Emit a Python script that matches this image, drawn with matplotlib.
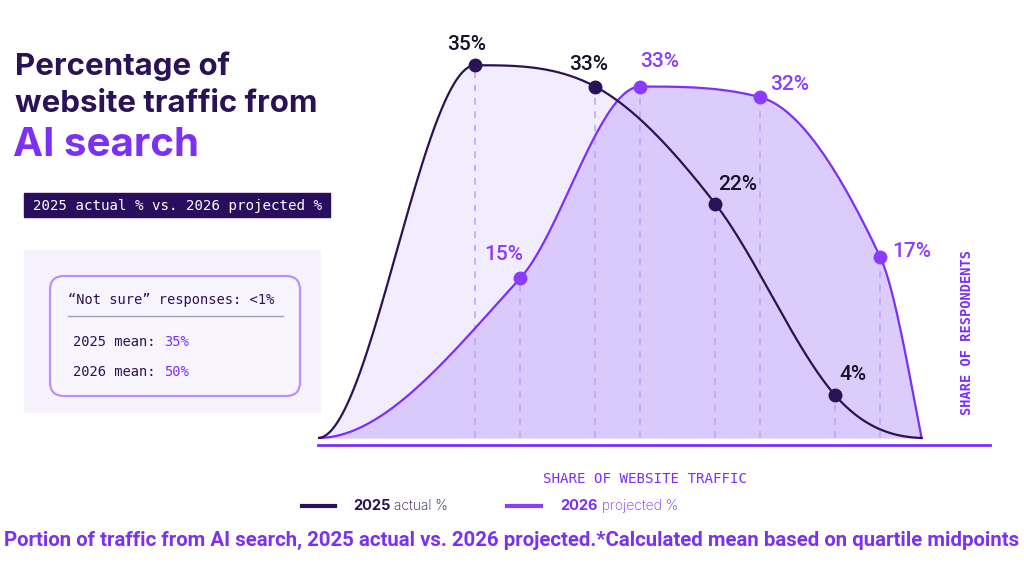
import numpy as np
import matplotlib
matplotlib.use("Agg")
import matplotlib.pyplot as plt
from matplotlib.patches import FancyBboxPatch, Rectangle

# data (share of respondents, % per traffic quartile)
quartiles = ["0-25%", "26-50%", "51-75%", "76-100%"]
actual_2025 = [35, 33, 22, 4]
projected_2026 = [15, 33, 32, 17]
mean_2025 = "35%"
mean_2026 = "50%"
not_sure = "<1%"

DARK = "#2b1257"
PURPLE = "#7b2ff7"
DASH = "#bfa6f7"


def smooth(x, y, xs):
    # cubic hermite, central-difference slopes, flat at extrema and at the start
    x = np.asarray(x, float)
    y = np.asarray(y, float)
    h = np.diff(x)
    d = np.diff(y) / h
    n = len(x)
    m = np.zeros(n)
    for k in range(1, n - 1):
        if d[k - 1] * d[k] > 0:
            c = (y[k + 1] - y[k - 1]) / (x[k + 1] - x[k - 1])
            lim = 3 * min(abs(d[k - 1]), abs(d[k]))
            m[k] = np.sign(c) * min(abs(c), lim)
    me = ((2 * h[-1] + h[-2]) * d[-1] - h[-1] * d[-2]) / (h[-1] + h[-2])
    if np.sign(me) != np.sign(d[-1]):
        me = 0
    m[-1] = me
    out = np.empty_like(xs)
    idx = np.clip(np.searchsorted(x, xs) - 1, 0, n - 2)
    for j, xv in enumerate(xs):
        k = idx[j]
        t = (xv - x[k]) / h[k]
        h00 = 2 * t**3 - 3 * t**2 + 1
        h10 = t**3 - 2 * t**2 + t
        h01 = -2 * t**3 + 3 * t**2
        h11 = t**3 - t**2
        out[j] = h00 * y[k] + h10 * h[k] * m[k] + h01 * y[k + 1] + h11 * h[k] * m[k + 1]
    return np.clip(out, 0, None)


fig = plt.figure(figsize=(10.24, 5.62), dpi=100)
fig.patch.set_facecolor("white")

# pixel overlay for the text panel on the left
deco = fig.add_axes([0, 0, 1, 1])
deco.set_xlim(0, 1024)
deco.set_ylim(562, 0)
deco.axis("off")

deco.text(15, 66, "Percentage of", fontsize=22.5, fontweight="bold", family="Inter",
          color=DARK, va="center")
deco.text(15, 104, "website traffic from", fontsize=22.5, fontweight="bold", family="Inter",
          color=DARK, va="center")
deco.text(13, 146, "AI search", fontsize=29, fontweight="bold", family="Inter",
          color=PURPLE, va="center")

deco.add_patch(Rectangle((24, 193), 306, 24, color="#2a0e5e"))
deco.text(33, 206, "2025 actual % vs. 2026 projected %", fontsize=10.2,
          family="DejaVu Sans Mono", color="white", va="center")

deco.add_patch(Rectangle((24, 250), 296, 162, color="#f6f2fe"))
deco.add_patch(FancyBboxPatch((50, 276), 250, 120, boxstyle="round,pad=0,rounding_size=14",
                              facecolor="#f8f5ff", edgecolor="#b793f8", lw=1.6))
deco.text(68, 300, "\u201cNot sure\u201d responses: " + not_sure, fontsize=9.9,
          family="DejaVu Sans Mono", color=DARK, va="center")
deco.plot([68, 283], [316, 316], color="#9a9fb0", lw=1)
for yy, lab, val in [(342, "2025 mean: ", mean_2025), (372, "2026 mean: ", mean_2026)]:
    t = deco.text(73, yy, lab, fontsize=9.9, family="DejaVu Sans Mono", color=DARK, va="center")
    deco.annotate(val, xy=(1, 0.5), xycoords=t, va="center", fontsize=9.9,
                  family="DejaVu Sans Mono", color=PURPLE)

# main chart
ax = fig.add_axes([318 / 1024, (562 - 445) / 562, (990 - 318) / 1024, (445 - 12) / 562])
ax.set_facecolor("none")
ax.set_xlim(-1.31, 4.29)
ax.set_ylim(-0.66, 40)
for s in ["top", "right", "left"]:
    ax.spines[s].set_visible(False)
ax.spines["bottom"].set_color(PURPLE)
ax.spines["bottom"].set_linewidth(2)
ax.set_xticks([])
ax.set_yticks([])

x25 = np.arange(len(quartiles)).astype(float)
x26 = x25 + 0.375
x_start, x_end = -1.31, 3.72

xa = np.r_[x_start, x25, x_end]
ya = np.r_[0, actual_2025, 0]
xb = np.r_[x_start, x26, x_end]
yb = np.r_[0, projected_2026, 0]
xs = np.linspace(x_start, x_end, 800)
ca = smooth(xa, ya, xs)
cb = smooth(xb, yb, xs)

ax.fill_between(xs, 0, ca, color="#f2edfe", lw=0, zorder=1)
ax.fill_between(xs, 0, cb, color="#d6c3fb", alpha=0.85, lw=0, zorder=2)
ax.vlines(x25, 0, actual_2025, colors=DASH, lw=1.2, linestyles=(0, (4, 4)), zorder=3)
ax.vlines(x26, 0, projected_2026, colors=DASH, lw=1.2, linestyles=(0, (4, 4)), zorder=3)
ax.plot(xs, cb, color=PURPLE, lw=1.6, zorder=4)
ax.plot(xs, ca, color=DARK, lw=1.6, zorder=5)
ax.plot(x25, actual_2025, "o", color=DARK, ms=9, zorder=6)
ax.plot(x26, projected_2026, "o", color="#8a3cff", ms=9, zorder=6)

off25 = [(-6, 15), (-5, 16), (16, 14), (13, 15)]
off26 = [(-12, 17), (14, 18), (21, 9), (23, 4)]
for xv, yv, o in zip(x25, actual_2025, off25):
    ax.annotate(f"{yv}%", (xv, yv), xytext=o, textcoords="offset points", ha="center",
                va="center", fontsize=15, fontweight="medium", family="Roboto",
                color="#16102a", zorder=7)
for xv, yv, o in zip(x26, projected_2026, off26):
    ax.annotate(f"{yv}%", (xv, yv), xytext=o, textcoords="offset points", ha="center",
                va="center", fontsize=15, fontweight="medium", family="Roboto",
                color="#8a3cff", zorder=7)

ax.text(0.966, 0.259, "SHARE OF RESPONDENTS", transform=ax.transAxes, rotation=90,
        ha="center", va="center", fontsize=9.8, fontweight="bold",
        family="DejaVu Sans Mono", color=PURPLE)
fig.text(645 / 1024, 1 - 479 / 562, "SHARE OF WEBSITE TRAFFIC", ha="center", va="center",
         fontsize=10.2, family="DejaVu Sans Mono", color=PURPLE)

# legend
deco.plot([302, 335], [506, 506], color=DARK, lw=3)
deco.plot([507, 541], [506, 506], color="#8a3cff", lw=3)
for xx, yr, rest, col in [(353, "2025", " actual %", DARK), (560, "2026", " projected %", PURPLE)]:
    t = deco.text(xx, 506, yr, fontsize=10.5, fontweight="bold", family="Inter",
                  color=col, va="center")
    deco.annotate(rest, xy=(1, 0.5), xycoords=t, va="center", fontsize=10,
                  fontweight="light", family="Inter", color=col)

deco.text(512, 540, "Portion of traffic from AI search, 2025 actual vs. 2026 projected."
          "*Calculated mean based on quartile midpoints", ha="center", va="center",
          fontsize=14.7, fontweight="bold", family="Roboto", color=PURPLE)

fig.savefig("out.png", dpi=100)
